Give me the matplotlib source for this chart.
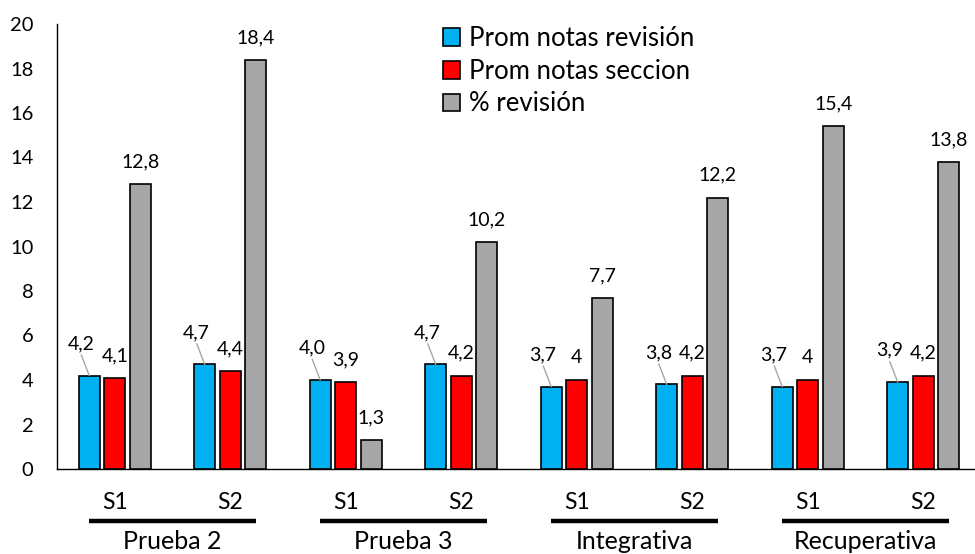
import matplotlib
matplotlib.use("Agg")
import matplotlib.pyplot as plt
from matplotlib.patches import Patch
import matplotlib.transforms as mtransforms
import numpy as np

plt.rcParams['font.family'] = ['Lato', 'DejaVu Sans']

sessions = ["S1", "S2", "S1", "S2", "S1", "S2", "S1", "S2"]
tests = ["Prueba 2", "Prueba 3", "Integrativa", "Recuperativa"]
series_names = ["Prom notas revisión", "Prom notas seccion", "% revisión"]
prom_revision = [4.2, 4.7, 4.0, 4.7, 3.7, 3.8, 3.7, 3.9]
prom_seccion = [4.1, 4.4, 3.9, 4.2, 4.0, 4.2, 4.0, 4.2]
pct_revision = [12.8, 18.4, 1.3, 10.2, 7.7, 12.2, 15.4, 13.8]
label_revision = ["4,2", "4,7", "4,0", "4,7", "3,7", "3,8", "3,7", "3,9"]
label_seccion = ["4,1", "4,4", "3,9", "4,2", "4", "4,2", "4", "4,2"]
label_pct = ["12,8", "18,4", "1,3", "10,2", "7,7", "12,2", "15,4", "13,8"]
yticks = [0, 2, 4, 6, 8, 10, 12, 14, 16, 18, 20]

colors = ["#00B0F0", "#FF0000", "#A6A6A6"]

W, H = 975, 554
fig = plt.figure(figsize=(W / 100, H / 100), dpi=100)
ax = fig.add_axes([57 / W, 85 / H, 924 / W, (469 - 24) / H])

x = np.arange(len(sessions))
off = 0.221
bw = 0.178
series = [prom_revision, prom_seccion, pct_revision]
for i, (vals, c) in enumerate(zip(series, colors)):
    ax.bar(x + (i - 1) * off, vals, width=bw, color=c, edgecolor="black",
           linewidth=1.2, zorder=3)

ax.set_xlim(-0.5, len(sessions) - 0.5)
ax.set_ylim(0, 20)
ax.set_yticks(yticks)
ax.set_yticklabels([str(t) for t in yticks], fontsize=14.5)
ax.tick_params(axis="y", length=0, pad=17)
ax.set_xticks([])
for s in ["top", "right"]:
    ax.spines[s].set_visible(False)
ax.spines["left"].set_linewidth(1.0)
ax.spines["bottom"].set_linewidth(1.0)

# data labels
for xi, v, lab in zip(x, prom_revision, label_revision):
    ax.annotate(lab, xy=(xi - off, v), xytext=(-6, 23), textcoords="offset points",
                ha="center", va="center", fontsize=14,
                arrowprops=dict(arrowstyle="-", color="#A6A6A6", lw=1.0,
                                shrinkA=0, shrinkB=0, relpos=(0.45, 0.1)))
for xi, v, lab in zip(x, prom_seccion, label_seccion):
    ax.annotate(lab, xy=(xi, v), xytext=(0, 16), textcoords="offset points",
                ha="center", va="center", fontsize=14)
for xi, v, lab in zip(x, pct_revision, label_pct):
    ax.annotate(lab, xy=(xi + off, v), xytext=(0, 16), textcoords="offset points",
                ha="center", va="center", fontsize=14)

# category axis labels
trans = mtransforms.blended_transform_factory(ax.transData, ax.transAxes)
for xi, s in zip(x, sessions):
    ax.text(xi, -0.0764, s, transform=trans, ha="center", va="center", fontsize=16.5,
            clip_on=False)
for k, t in enumerate(tests):
    c = 2 * k + 0.5
    ax.plot([c - 0.72, c + 0.72], [-0.1169, -0.1169], transform=trans, color="black",
            lw=3.2, solid_capstyle="butt", clip_on=False)
    ax.text(c, -0.164, t, transform=trans, ha="center", va="center", fontsize=18,
            clip_on=False)

handles = [Patch(facecolor=c, edgecolor="black", linewidth=1.2) for c in colors]
fig.legend(handles, series_names, loc="upper left", bbox_to_anchor=(443 / W, (H - 26) / H),
           frameon=False, fontsize=18.5, handlelength=0.68, handleheight=0.68,
           handletextpad=0.32, labelspacing=0.3, borderpad=0, borderaxespad=0)

fig.savefig("out.png", dpi=100)
